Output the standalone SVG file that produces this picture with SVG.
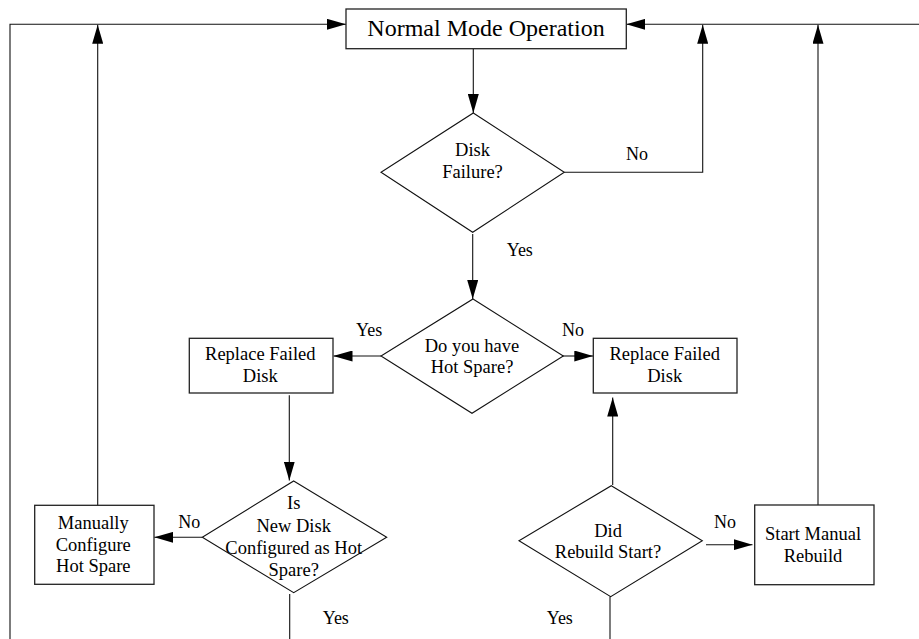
<svg xmlns="http://www.w3.org/2000/svg" width="919" height="639" viewBox="0 0 919 639">
<style>
.box{fill:#fff;stroke:#222;stroke-width:1.3}
.dia{fill:#fff;stroke:#111;stroke-width:1.1}
.t{font-family:"Liberation Serif","Times New Roman",serif;font-size:18.5px;fill:#000;text-anchor:middle}
.big{font-size:24px}
.lbl{font-family:"Liberation Serif","Times New Roman",serif;font-size:18px;fill:#000}
.c{fill:none;stroke:#111;stroke-width:1.1}
.a{marker-end:url(#ah)}
</style>
<defs>
<marker id="ah" markerUnits="userSpaceOnUse" markerWidth="19" markerHeight="11" refX="19" refY="5.5" orient="auto">
<path d="M0,0 L19,5.5 L0,11 z" fill="#000"/>
</marker>
</defs>
<rect width="919" height="639" fill="#fff"/>
<g id="connectors">
<polyline class="c a" points="10,639 10,24.3 346,24.3"/>
<polyline class="c a" points="97.7,505 97.7,24.8"/>
<polyline class="c a" points="473.3,49 473.3,113"/>
<polyline class="c a" points="564.3,172.3 702.7,172.3 702.7,24.8"/>
<polyline class="c a" points="919,24.3 626.3,24.3"/>
<polyline class="c a" points="818,505 818,24.8"/>
<polyline class="c a" points="472.7,234 472.7,299"/>
<polyline class="c a" points="381,356 333.5,356"/>
<polyline class="c a" points="563,356 593.3,356"/>
<polyline class="c a" points="289.3,395.3 289.3,480.5"/>
<polyline class="c a" points="202.3,537.3 154.3,537.3"/>
<polyline class="c" points="289.7,594 289.7,639"/>
<polyline class="c a" points="612.7,485 612.7,397.5"/>
<polyline class="c a" points="706,544.7 752.5,544.7"/>
<polyline class="c" points="610,596.5 610,639"/>
</g>
<g id="labels">
<text class="lbl" x="626" y="160.3">No</text>
<text class="lbl" x="506.7" y="256">Yes</text>
<text class="lbl" x="356" y="336">Yes</text>
<text class="lbl" x="562" y="336">No</text>
<text class="lbl" x="178.3" y="528">No</text>
<text class="lbl" x="322.7" y="624">Yes</text>
<text class="lbl" x="714" y="528">No</text>
<text class="lbl" x="546.7" y="624">Yes</text>
</g>
<g id="normal">
<rect class="box" x="346" y="9" width="280.3" height="39.7"/>
<text class="t big" x="486" y="36">Normal Mode Operation</text>
</g>
<g id="diskFailure">
<polygon class="dia" points="473.3,113 564.3,172.3 472.7,232.3 381,172.3"/>
<text class="t" x="472.5" y="156">Disk</text>
<text class="t" x="472.5" y="177.8">Failure?</text>
</g>
<g id="hotSpare">
<polygon class="dia" points="473,299 563.3,356 472,413.3 381,356"/>
<text class="t" x="472" y="351.7">Do you have</text>
<text class="t" x="472" y="373.3">Hot Spare?</text>
</g>
<g id="replaceLeft">
<rect class="box" x="189.3" y="338.3" width="143.7" height="54.7"/>
<text class="t" x="260.3" y="360.3">Replace Failed</text>
<text class="t" x="260.3" y="382">Disk</text>
</g>
<g id="replaceRight">
<rect class="box" x="593.3" y="338.3" width="143.7" height="54.7"/>
<text class="t" x="664.7" y="360.3">Replace Failed</text>
<text class="t" x="664.7" y="382">Disk</text>
</g>
<g id="isConfigured">
<polygon class="dia" points="293.7,481 386.7,537.3 293.7,592.7 202.3,537.3"/>
<text class="t" x="293.7" y="509">Is</text>
<text class="t" x="293.7" y="532">New Disk</text>
<text class="t" x="293.7" y="554.3">Configured as Hot</text>
<text class="t" x="293.7" y="576">Spare?</text>
</g>
<g id="manualConfig">
<rect class="box" x="34.7" y="505.3" width="119.3" height="79"/>
<text class="t" x="93.3" y="529">Manually</text>
<text class="t" x="93.3" y="550.7">Configure</text>
<text class="t" x="93.3" y="572.3">Hot Spare</text>
</g>
<g id="rebuildStart">
<polygon class="dia" points="611.3,485.7 702.3,540.7 610.7,596.7 519,540.7"/>
<text class="t" x="608" y="536.7">Did</text>
<text class="t" x="608" y="558">Rebuild Start?</text>
</g>
<g id="startManual">
<rect class="box" x="754.7" y="505" width="119.3" height="79.7"/>
<text class="t" x="813" y="539.7">Start Manual</text>
<text class="t" x="813" y="562">Rebuild</text>
</g>
</svg>
